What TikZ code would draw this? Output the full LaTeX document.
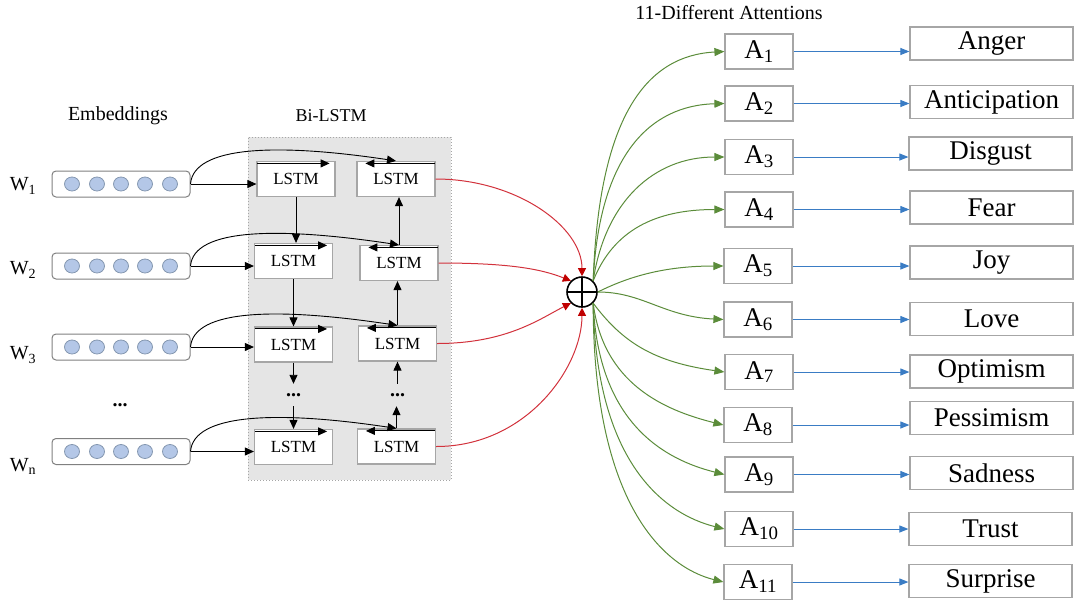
\documentclass[tikz,border=0pt]{standalone}
\usepackage{fontspec}
\setmainfont{Liberation Serif}
\usetikzlibrary{arrows.meta,calc}
\definecolor{boxgray}{HTML}{A6A6A6}
\definecolor{embgray}{HTML}{808080}
\definecolor{dotfill}{HTML}{B4C7E7}
\definecolor{dotdraw}{HTML}{8497B0}
\definecolor{panel}{HTML}{E5E5E5}
\definecolor{redline}{HTML}{D2323C}
\definecolor{redtip}{HTML}{C00000}
\definecolor{greenline}{HTML}{5B8C3A}
\definecolor{blueline}{HTML}{3A7CC4}
\begin{document}
\begin{tikzpicture}[x=1pt,y=-1pt,
  emb/.style={draw=embgray, line width=1, rounded corners=4, minimum width=138, minimum height=26, inner sep=0},
  edot/.style={fill=dotfill, draw=dotdraw, line width=0.8},
  lstm/.style={draw=boxgray, line width=1.2, fill=white, minimum width=78, minimum height=35, inner sep=0, font=\fontsize{17}{19}\selectfont},
  abox/.style={draw=boxgray, line width=1.2, minimum width=68, minimum height=35, inner sep=0, font=\fontsize{27}{30}\selectfont},
  lbox/.style={draw=boxgray, line width=1.2, minimum width=163, minimum height=33, inner sep=0, font=\fontsize{27}{30}\selectfont},
  wlab/.style={font=\fontsize{20}{22}\selectfont},
  head/.style={font=\fontsize{20}{22}\selectfont},
  dots/.style={minimum height=22, inner sep=0, font=\fontsize{20}{22}\selectfont\bfseries},
  blk/.style={line width=0.9, -{Triangle[length=9,width=8]}},
  red/.style={draw=redline, line width=1, -{Triangle[length=8,width=8,color=redtip,fill=redtip]}},
  grn/.style={draw=greenline, line width=1, -{Triangle[length=10,width=8]}, color=greenline},
  blu/.style={draw=blueline, line width=1, -{Triangle[length=9,width=7]}, color=blueline}
]
\useasboundingbox (0,0) rectangle (1075,600);

% headings
\node[head] (hemb) at (118,116) {Embeddings};
\node[head, font=\fontsize{18}{20}\selectfont] (hbi) at (331,116) {Bi-LSTM};
\node[head] (hatt) at (729,13) {11-Different Attentions};

% panel
\node[fill=panel, draw=boxgray, dotted, line width=1, minimum width=203, minimum height=343, inner sep=0] (panel) at (349.5,308.5) {};

% word labels
\node[wlab] (w1) at (23,186) {W\textsubscript{1}};
\node[wlab] (w2) at (23,270) {W\textsubscript{2}};
\node[wlab] (w3) at (23,355) {W\textsubscript{3}};
\node[wlab] (wn) at (23,466) {W\textsubscript{n}};
\node[dots] (edots) at (120,405) {...};

% embedding boxes
\node[emb] (e1) at (121,184) {};
\node[emb] (e2) at (121,266) {};
\node[emb] (e3) at (121,347) {};
\node[emb] (e4) at (121,451.5) {};
\foreach \yy in {184,266,347,451.5}{
  \foreach \cx in {72,97,121,145,170}{
    \draw[edot] (\cx,\yy) ellipse [x radius=7.5pt, y radius=7pt];
  }
}

% LSTM boxes
\node[lstm] (l1) at (296,179) {LSTM};
\node[lstm] (l2) at (293.5,261) {LSTM};
\node[lstm] (l3) at (293.5,344.5) {LSTM};
\node[lstm] (l4) at (293.5,447) {LSTM};
\node[lstm] (r1) at (396,179) {LSTM};
\node[lstm] (r2) at (399,263) {LSTM};
\node[lstm] (r3) at (397.5,343.5) {LSTM};
\node[lstm] (r4) at (396.5,446.5) {LSTM};
\node[dots] (dl) at (293.5,395) {...};
\node[dots] (dr) at (397.5,395) {...};

% internal direction arrows
\foreach \n in {l1,l2,l3,l4}{
  \draw[line width=0.9, -{Triangle[length=9,width=8]}] ($(\n.north west)+(1,2.5)$) -- ($(\n.north east)+(-6,2.5)$);
}
\foreach \n in {r1,r2,r3,r4}{
  \draw[line width=0.9, -{Triangle[length=9,width=8]}] ($(\n.north east)+(-1,2.5)$) -- ($(\n.north west)+(9,2.5)$);
}

% embeddings to LSTMs
\foreach \e/\l/\r in {e1/l1/r1,e2/l2/r2,e3/l3/r3,e4/l4/r4}{
  \draw[blk] (\e.east) -- (\e.east -| \l.west);
  \draw[blk] (\e.east) .. controls +(3,-38) and +(-120,-18) .. (\r.north);
}

% vertical LSTM arrows
\draw[blk] (l1.south) -- (l1.south |- l2.north);
\draw[blk] (l2.south) -- (l2.south |- l3.north);
\draw[blk] (l3.south) -- (l3.south |- dl.north);
\draw[blk] (dl.south) -- (dl.south |- l4.north);
\draw[blk] (r2.north) -- (r2.north |- r1.south);
\draw[blk] (r3.north) -- (r3.north |- r2.south);
\draw[blk] (dr.north) -- (dr.north |- r3.south);
\draw[blk] (r4.north) -- (r4.north |- dr.south);

% sum node
\node[circle, draw, line width=1.6, minimum size=30, inner sep=0,
  path picture={\draw[line width=1.6] (path picture bounding box.north) -- (path picture bounding box.south) (path picture bounding box.west) -- (path picture bounding box.east);}] (plus) at (582,292) {};

% red arrows
\draw[red] (r1.east) .. controls +(80,0) and +(0,-50) .. (plus.north);
\draw[red] (r2.east) .. controls +(70,0) and +(-30,-12) .. (plus.north west);
\draw[red] (r3.east) .. controls +(70,0) and +(-30,15) .. (plus.south west);
\draw[red] (r4.east) .. controls +(90,0) and +(0,60) .. (plus.south);

% attention boxes
\node[abox] (a1) at (759,51.5) {A\textsubscript{1}};
\node[abox] (a2) at (759,103.5) {A\textsubscript{2}};
\node[abox] (a3) at (759,157) {A\textsubscript{3}};
\node[abox] (a4) at (759,209.5) {A\textsubscript{4}};
\node[abox] (a5) at (758,266) {A\textsubscript{5}};
\node[abox] (a6) at (758,319.5) {A\textsubscript{6}};
\node[abox] (a7) at (759,372) {A\textsubscript{7}};
\node[abox] (a8) at (758,425) {A\textsubscript{8}};
\node[abox] (a9) at (759,474.5) {A\textsubscript{9}};
\node[abox] (a10) at (759,529) {A\textsubscript{10}};
\node[abox] (a11) at (758,582) {A\textsubscript{11}};

% emotion boxes
\node[lbox] (b1) at (991.5,43.5) {Anger};
\node[lbox] (b2) at (991.5,102) {Anticipation};
\node[lbox] (b3) at (990.5,153.5) {Disgust};
\node[lbox] (b4) at (991.5,207.5) {Fear};
\node[lbox] (b5) at (991.5,262.5) {Joy};
\node[lbox] (b6) at (991.5,319) {Love};
\node[lbox] (b7) at (991.5,371.5) {Optimism};
\node[lbox] (b8) at (991.5,418) {Pessimism};
\node[lbox] (b9) at (991.5,473) {Sadness};
\node[lbox] (b10) at (990.5,529) {Trust};
\node[lbox] (b11) at (990.5,581) {Surprise};

% blue arrows
\foreach \i in {1,...,11}{
  \draw[blu] (a\i.east) -- (a\i.east -| b\i.west);
}

% green arrows
\draw[grn] (plus.north east) .. controls +(6,-170) and +(-75,4) .. (a1.west);
\draw[grn] (plus.north east) .. controls +(6,-125) and +(-75,2) .. (a2.west);
\draw[grn] (plus.north east) .. controls +(12,-80) and +(-70,0) .. (a3.west);
\draw[grn] (plus.north east) .. controls +(20,-50) and +(-70,0) .. (a4.west);
\draw[grn] (plus.east) .. controls +(30,-15) and +(-60,0) .. (a5.west);
\draw[grn] (plus.east) .. controls +(45,0) and +(-60,-3) .. (a6.west);
\draw[grn] (plus.south east) .. controls +(30,40) and +(-70,-10) .. (a7.west);
\draw[grn] (plus.south east) .. controls +(10,80) and +(-60,-15) .. (a8.west);
\draw[grn] (plus.south east) .. controls +(5,120) and +(-60,-15) .. (a9.west);
\draw[grn] (plus.south east) .. controls +(3,160) and +(-60,-15) .. (a10.west);
\draw[grn] (plus.south east) .. controls +(0,200) and +(-60,-15) .. (a11.west);
\end{tikzpicture}
\end{document}
